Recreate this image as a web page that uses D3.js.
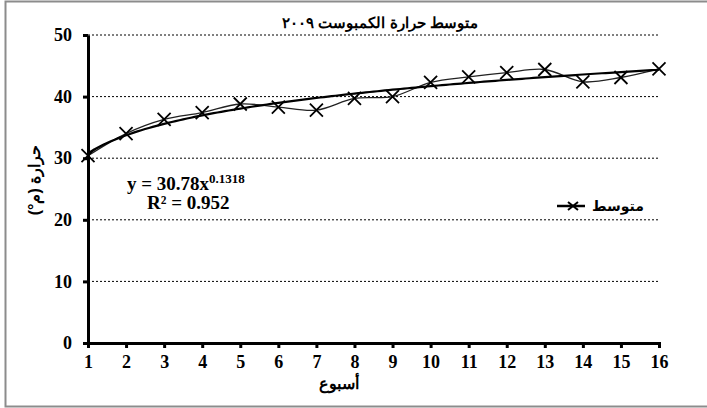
<!DOCTYPE html>
<html>
<head>
<meta charset="utf-8">
<script src="https://cdnjs.cloudflare.com/ajax/libs/d3/7.8.5/d3.min.js"></script>
<style>
  body { margin: 0; background: #fff; }
</style>
</head>
<body>
<script>

// Data
var weeks = [1, 2, 3, 4, 5, 6, 7, 8, 9, 10, 11, 12, 13, 14, 15, 16];
var temps = [30.4, 34.0, 36.3, 37.4, 38.8, 38.3, 37.8, 39.7, 40.0, 42.3, 43.2, 43.9, 44.4, 42.4, 43.1, 44.5];
var yTicks = [0, 10, 20, 30, 40, 50];
var gridLines = [10, 20, 30, 40, 50];

// Power trendline as printed on the chart
var trendA = 30.78;
var trendB = 0.1318;
var trendLabel = "y = 30.78x";
var trendPow = "0.1318";
var r2Label = "R² = 0.952";

var titleText = "متوسط حرارة الكمبوست ٢٠٠٩";
var xTitle = "أسبوع";
var yTitle = "حرارة (م°)";
var seriesName = "متوسط";

var w = 707;
var h = 408;

var svg = d3.select("body")
            .append("svg")
            .attr("width", w)
            .attr("height", h);

// outer frame
svg.append("rect")
   .attr("x", 5.5)
   .attr("y", 1.5)
   .attr("width", 720)
   .attr("height", 405)
   .attr("fill", "none")
   .attr("stroke", "#8c8c8c")
   .attr("stroke-width", 2);

var margin = {top: 35, left: 88, right: 48, bottom: 65};
var graphWidth = 659 - margin.left;
var graphHeight = 343 - margin.top;

var graph = svg.append("g")
               .attr("transform", `translate(${margin.left}, ${margin.top})`);

var xScale = d3.scaleLinear()
               .domain([1, 16])
               .range([0, graphWidth]);

var yScale = d3.scaleLinear()
               .domain([0, 50])
               .range([graphHeight, 0]);

// dotted gridlines
graph.selectAll(".grid")
     .data(gridLines)
     .enter()
     .append("line")
     .attr("class", "grid")
     .attr("x1", 0)
     .attr("x2", graphWidth)
     .attr("y1", d => yScale(d))
     .attr("y2", d => yScale(d))
     .attr("stroke", "#000")
     .attr("stroke-width", 1)
     .attr("stroke-dasharray", "2,2");

// axes
var xAxis = graph.append("g")
                 .attr("transform", `translate(0, ${graphHeight})`)
                 .call(d3.axisBottom(xScale).tickValues(weeks).tickSize(5).tickSizeOuter(5).tickPadding(7));

var yAxis = graph.append("g")
                 .call(d3.axisLeft(yScale).tickValues(yTicks).tickSize(5).tickSizeOuter(0).tickPadding(11));

[xAxis, yAxis].forEach(function(a){
  a.select(".domain").attr("stroke", "#000").attr("stroke-width", 3);
  a.selectAll(".tick line").attr("stroke", "#000").attr("stroke-width", 3);
  a.selectAll("text")
   .attr("fill", "#000")
   .style("font-family", "'Liberation Serif', 'Times New Roman', serif")
   .style("font-weight", "bold")
   .style("font-size", "18px");
});

// data line (smoothed, thin)
var dataLine = d3.line()
                 .x((d, i) => xScale(weeks[i]))
                 .y(d => yScale(d))
                 .curve(d3.curveCatmullRom.alpha(0.5));

graph.append("path")
     .datum(temps)
     .attr("d", dataLine)
     .attr("fill", "none")
     .attr("stroke", "#222")
     .attr("stroke-width", 1.3);

// trendline from printed equation
var trendXs = d3.range(1, 16.01, 0.1);
var trendLine = d3.line()
                  .x(d => xScale(d))
                  .y(d => yScale(trendA * Math.pow(d, trendB)));

graph.append("path")
     .datum(trendXs)
     .attr("d", trendLine)
     .attr("fill", "none")
     .attr("stroke", "#000")
     .attr("stroke-width", 2.2);

// X markers
var m = 6.5;
var markers = graph.selectAll(".mark")
                   .data(temps)
                   .enter()
                   .append("path")
                   .attr("class", "mark")
                   .attr("transform", (d, i) => `translate(${xScale(weeks[i])}, ${yScale(d)})`)
                   .attr("d", `M${-m},${-m}L${m},${m}M${-m},${m}L${m},${-m}`)
                   .attr("stroke", "#000")
                   .attr("stroke-width", 1.8)
                   .attr("fill", "none");

// equation
var eq = svg.append("text")
            .attr("x", 127)
            .attr("y", 190)
            .style("font-family", "'Liberation Serif', 'Times New Roman', serif")
            .style("font-weight", "bold")
            .style("font-size", "19px");
eq.append("tspan").text(trendLabel);
eq.append("tspan")
  .attr("dy", -7)
  .style("font-size", "13px")
  .text(trendPow);

svg.append("text")
   .attr("x", 147)
   .attr("y", 209)
   .style("font-family", "'Liberation Serif', 'Times New Roman', serif")
   .style("font-weight", "bold")
   .style("font-size", "19px")
   .text(r2Label);

// title
svg.append("text")
   .attr("x", 380)
   .attr("y", 28)
   .attr("text-anchor", "middle")
   .style("font-family", "'Liberation Sans', Arial, sans-serif")
   .style("font-weight", "bold")
   .style("font-size", "15px")
   .text(titleText);

// axis titles
svg.append("text")
   .attr("x", 339)
   .attr("y", 389)
   .attr("text-anchor", "middle")
   .style("font-family", "'Liberation Sans', Arial, sans-serif")
   .style("font-weight", "bold")
   .style("font-size", "16px")
   .text(xTitle);

svg.append("text")
   .attr("transform", "translate(40, 180) rotate(-90)")
   .attr("text-anchor", "middle")
   .style("font-family", "'Liberation Sans', Arial, sans-serif")
   .style("font-weight", "bold")
   .style("font-size", "16px")
   .text(yTitle);

// legend
var legend = svg.append("g")
                .attr("transform", "translate(557, 206)");

legend.append("line")
      .attr("x1", 0)
      .attr("x2", 28)
      .attr("stroke", "#000")
      .attr("stroke-width", 2.5);

legend.append("path")
      .attr("transform", "translate(16, 0)")
      .attr("d", "M-5,-4L5,4M-5,4L5,-4")
      .attr("stroke", "#000")
      .attr("stroke-width", 2)
      .attr("fill", "none");

legend.append("text")
      .attr("x", 87)
      .attr("y", 5)
      .attr("text-anchor", "end")
      .style("font-family", "'DejaVu Sans', sans-serif")
      .style("font-weight", "bold")
      .style("font-size", "14px")
      .text(seriesName);

</script>
</body>
</html>
